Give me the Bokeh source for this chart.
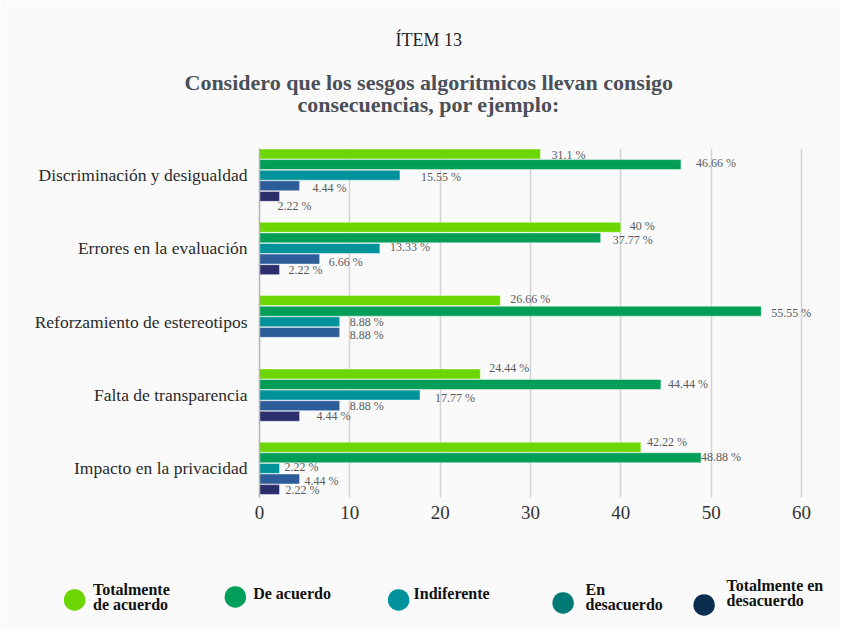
from bokeh.plotting import figure
from bokeh.models import (Range1d, FixedTicker, LabelSet, ColumnDataSource,
                          Title)
from bokeh.embed import file_html
from bokeh.resources import INLINE

# ---------------- data ----------------
categories = ["Discriminación y desigualdad", "Errores en la evaluación",
              "Reforzamiento de estereotipos", "Falta de transparencia",
              "Impacto en la privacidad"]
series = ["Totalmente de acuerdo", "De acuerdo", "Indiferente",
          "En desacuerdo", "Totalmente en desacuerdo"]
totalmente_de_acuerdo = [31.1, 40, 26.66, 24.44, 42.22]
de_acuerdo = [46.66, 37.77, 55.55, 44.44, 48.88]
indiferente = [15.55, 13.33, 8.88, 17.77, 2.22]
en_desacuerdo = [4.44, 6.66, 8.88, 8.88, 4.44]
totalmente_en_desacuerdo = [2.22, 2.22, 0, 4.44, 2.22]
x_ticks = [0, 10, 20, 30, 40, 50, 60]

values = [totalmente_de_acuerdo, de_acuerdo, indiferente, en_desacuerdo,
          totalmente_en_desacuerdo]

# ---------------- styles ----------------
bar_colors = ["#6cd700", "#009e57", "#00929a", "#2d5d99", "#2c2f6c"]
legend_colors = ["#6cd700", "#00a05a", "#00939c", "#007a75", "#0b2d4f"]
# legend label lines: (series index, line text, page y of the line)
legend_lines = [(4, "Totalmente en", 585), (0, "Totalmente", 589),
                (3, "En", 589), (1, "De acuerdo", 593), (2, "Indiferente", 593),
                (4, "desacuerdo", 600), (0, "de acuerdo", 604),
                (3, "desacuerdo", 604)]
legend_dot_y = [599, 596, 599, 602, 604.5]
# horizontal offsets (px from the plot frame's left edge)
legend_text_offset = [-166.5, -6.3, 154, 326, 467]
legend_dot_offset = [-200, -39.3, 124, 288.6, 429.5]
# label pixel offsets (series x category): right of bar end, down from bar centre
label_dx = [[11, 9, 10, 9, 6], [15, 12, 10, 7, 0], [21, 10, 10, 15, 5],
            [13, 9, 10, 10, 5], [-2, 9, 0, 17, 6]]
label_dy = [[1, -1, -1.5, -6, -5], [-2, 2, 1.7, 0, -1], [2, -1, 0, 3, -1],
            [2, 3, 3, 0.5, 2], [10, 0, 0, 0, 0]]

BG = "#fafafa"
FONT = "Liberation Serif"


def fmt(v):
    return f"{v:g} %"


p = figure(width=840, height=630, x_range=Range1d(0, 62.99),
           y_range=Range1d(4.397, -0.364), output_backend="svg",
           toolbar_location=None, min_border_left=259, min_border_right=12,
           min_border_top=148, min_border_bottom=133)
p.outline_line_color = None
p.background_fill_color = BG
p.border_fill_color = BG

# ---------------- bars + value labels ----------------
pitch = 0.1446
for j, (name, vals, col) in enumerate(zip(series, values, bar_colors)):
    keep = [k for k, v in enumerate(vals) if v > 0]
    src = ColumnDataSource(dict(
        y=[k + (j - 2) * pitch for k in keep],
        right=[vals[k] for k in keep],
        text=[fmt(vals[k]) for k in keep],
        dx=[label_dx[j][k] for k in keep],
        dy=[-label_dy[j][k] for k in keep],
    ))
    p.hbar(y="y", right="right", left=0, height=0.136, source=src,
           fill_color=col, line_color="white", line_alpha=0.45, line_width=1)
    p.add_layout(LabelSet(x="right", y="y", text="text", x_offset="dx",
                          y_offset="dy", source=src, text_font=FONT,
                          text_font_size="12px", text_color="#5a5a5a",
                          text_baseline="middle", text_align="left"))

# ---------------- axes + grid ----------------
p.yaxis.ticker = FixedTicker(ticks=list(range(len(categories))))
p.yaxis.major_label_overrides = {i: c for i, c in enumerate(categories)}
p.yaxis.major_tick_line_color = None
p.yaxis.major_tick_out = 0
p.yaxis.minor_tick_line_color = None
p.yaxis.axis_line_color = "#b3b3b3"
p.yaxis.axis_line_width = 1.5
p.yaxis.major_label_standoff = 12
p.yaxis.major_label_text_font = FONT
p.yaxis.major_label_text_font_size = "17.5px"
p.yaxis.major_label_text_color = "#2b2b2b"

p.xaxis.ticker = FixedTicker(ticks=x_ticks)
p.xaxis.axis_line_color = None
p.xaxis.major_tick_line_color = None
p.xaxis.major_tick_out = 0
p.xaxis.minor_tick_line_color = None
p.xaxis.major_label_standoff = 8
p.xaxis.major_label_text_font = FONT
p.xaxis.major_label_text_font_size = "19px"
p.xaxis.major_label_text_color = "#333333"

p.xgrid.ticker = FixedTicker(ticks=x_ticks)
p.xgrid.grid_line_color = "#d3d3d3"
p.xgrid.grid_line_width = 1.5
p.ygrid.grid_line_color = None

# ---------------- titles (stacked upward from the frame) ----------------
p.add_layout(Title(text=" ", standoff=18.5, text_font_size="10px"), "above")
p.add_layout(Title(text="consecuencias, por ejemplo:", align="left",
                   offset=38, standoff=0, text_font=FONT,
                   text_font_style="bold", text_font_size="22px",
                   text_color="#4b5058"), "above")
p.add_layout(Title(text="Considero que los sesgos algoritmicos llevan consigo",
                   align="left", offset=-75, standoff=-10, text_font=FONT,
                   text_font_style="bold", text_font_size="22px",
                   text_color="#4b5058"), "above")
p.add_layout(Title(text="ÍTEM 13", align="left", offset=136, standoff=45,
                   text_font=FONT, text_font_style="normal",
                   text_font_size="18px", text_color="#222222"), "above")

# ---------------- legend (zero-height title rows below the axis) ----------
H16 = 1.18 * 16          # text box height of a 16px line
H_DOT = 1.18 * 50        # text box height of the 50px dot
D16, D_DOT = 2.45, 5.7   # glyph centre below the row's top edge
AXIS_BOTTOM = 497 + 24   # frame bottom + height of the x-axis panel

entries = []
for si, txt, yy in legend_lines:
    entries.append((yy - D16, Title(
        text=txt, align="left", offset=legend_text_offset[si],
        standoff=-(H16 + 2), text_font=FONT, text_font_style="bold",
        text_font_size="16px", text_color="#111111")))
for i, name in enumerate(series):
    entries.append((legend_dot_y[i] - D_DOT, Title(
        text="●", align="left", offset=legend_dot_offset[i],
        standoff=-(H_DOT + 2), text_font="Liberation Sans",
        text_font_size="50px", text_color=legend_colors[i])))
entries.sort(key=lambda e: e[0])

cur = AXIS_BOTTOM
for top, t in entries:
    if top - cur > 0.3:
        # a 10px blank line occupies 10.8 + 2 + standoff pixels
        p.add_layout(Title(text=" ", standoff=(top - cur) - 12.8,
                           text_font_size="10px"), "below")
        cur = top
    p.add_layout(t, "below")

open("out.html", "w").write(file_html(p, INLINE))
